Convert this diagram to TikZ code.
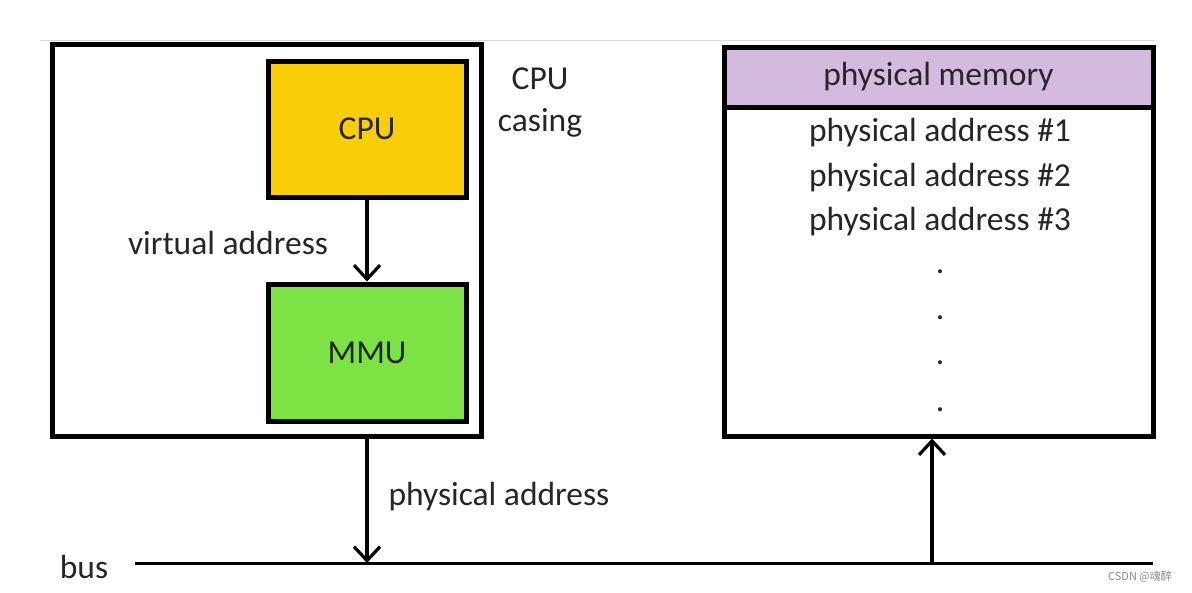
\documentclass[tikz,border=0pt]{standalone}
\usepackage{fontspec}
\setmainfont{Carlito}
\newfontfamily\cjk{Noto Sans CJK SC}
\usetikzlibrary{arrows.meta}

\definecolor{cpuyellow}{RGB}{249,206,8}
\definecolor{mmugreen}{RGB}{125,226,68}
\definecolor{memlilac}{RGB}{213,186,223}

\begin{document}
\begin{tikzpicture}[x = 1pt, y = -1pt,
		box/.style = {draw, line width = 5pt, rectangle, inner sep = 0pt},
		lbl/.style = {font = \fontsize{33.5}{40}\selectfont, text = black!85},
		arr/.style = {line width = 3.2pt, -{Straight Barb[length = 14pt, width = 26pt, line width = 3.2pt]}}]

		\useasboundingbox[fill = white] (0, 0) rectangle (1192, 592);
		\draw[black!15, line width = 1pt] (40, 40) -- (1155, 40);

		% cpu side
		\node[box, minimum width = 429pt, minimum height = 392pt] (casing) at (266.5, 240) {};
		\node[box, fill = cpuyellow, minimum width = 198pt, minimum height = 136pt, lbl] (cpu) at (367, 129) {CPU};
		\node[box, fill = mmugreen, minimum width = 198pt, minimum height = 137pt, lbl] (mmu) at (367, 352.5) {MMU};
		\node[lbl, align = center] (casinglbl) at (540, 103) {CPU\\[2pt]casing};
		\node[lbl] (virtlbl) at (228, 243) {virtual address};
		\draw[arr] (cpu) -- (mmu);

		% memory side
		\node[box, minimum width = 429pt, minimum height = 389pt] (mem) at (938.5, 241.5) {};
		\node[box, fill = memlilac, minimum width = 429pt, minimum height = 60pt, lbl] (memhead) at (938.5, 77) {physical memory};
		\foreach \i/\y in {1/133, 2/178, 3/222}
			\node[lbl] (addr\i) at (940, \y) {physical address \#\i};
		\foreach \i/\y in {1/268, 2/314, 3/359, 4/406}
			\node[lbl] (dot\i) at (940, \y + 4) {.};

		% bus
		\coordinate (busL) at (135, 563);
		\coordinate (busR) at (1153, 563);
		\coordinate (tap) at (932, 563);
		\node[lbl] (buslbl) at (84, 567) {bus};
		\draw[line width = 3pt] (busL) -- (busR);
		\draw[arr] (casing.south -| cpu.south) -- (cpu.south |- busL);
		\node[lbl] (physlbl) at (499, 497) {physical address};
		\draw[arr] (tap) -- (tap |- mem.south);

		\node[text = black!45, font = \cjk\fontsize{11}{13}\selectfont] (mark) at (1140, 577) {CSDN @魂醉};

	\end{tikzpicture}
\end{document}
